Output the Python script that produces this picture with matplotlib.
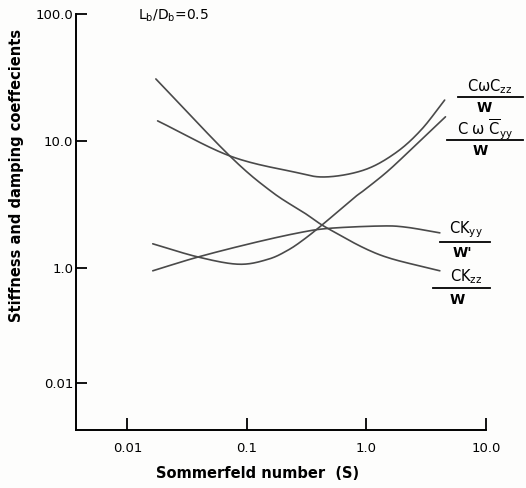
#! /usr/bin/env python3

"""
Stiffness and damping coefficients vs Sommerfeld number, L/D = 0.5.
"""

import numpy as np
import matplotlib

matplotlib.use("Agg")
import matplotlib.pyplot as plt
from matplotlib.lines import Line2D

plt.rcParams["font.family"] = ["DejaVu Sans"]
plt.rcParams["mathtext.fontset"] = "dejavusans"
plt.rcParams["mathtext.default"] = "regular"

# values (Sommerfeld number S, coefficient)
s_ckzz = [0.0173, 0.0718, 0.16, 0.303, 0.483, 1.29, 4.11]
v_ckzz = [30.8, 7.63, 4.0, 2.71, 2.03, 1.27, 0.95]

s_cczz = [0.0179, 0.0718, 0.248, 0.455, 0.96, 1.75, 2.86, 4.51]
v_cczz = [14.4, 7.63, 5.70, 5.21, 5.92, 8.05, 12.2, 21.0]

s_ckyy = [0.0163, 0.039, 0.111, 0.27, 0.483, 1.29, 2.10, 4.11]
v_ckyy = [0.95, 1.22, 1.57, 1.89, 2.05, 2.14, 2.10, 1.89]

s_ccyy = [0.0163, 0.039, 0.0855, 0.15, 0.22, 0.30, 0.43, 0.785, 0.96, 1.55, 2.86, 4.58]
v_ccyy = [1.55, 1.22, 1.07, 1.17, 1.38, 1.68, 2.2, 3.56, 4.11, 5.92, 10.2, 15.5]

x_ticks = [0.01, 0.1, 1.0, 10.0]
x_ticklabels = ["0.01", "0.1", "1.0", "10.0"]
y_ticks = [100.0, 10.0, 1.0, 10 ** -0.906]
y_ticklabels = ["100.0", "10.0", "1.0", "0.01"]

W, H = 526, 488


def smooth(xs, ys, n=24):
    """Catmull-Rom curve through the read points, in log-log space."""
    p = np.column_stack([np.log10(xs), np.log10(ys)])
    p = np.vstack([2 * p[0] - p[1], p, 2 * p[-1] - p[-2]])
    out = []
    for i in range(1, len(p) - 2):
        p0, p1, p2, p3 = p[i - 1], p[i], p[i + 1], p[i + 2]
        t = np.linspace(0, 1, n, endpoint=False)[:, None]
        seg = 0.5 * (
            2 * p1
            + (-p0 + p2) * t
            + (2 * p0 - 5 * p1 + 4 * p2 - p3) * t**2
            + (-p0 + 3 * p1 - 3 * p2 + p3) * t**3
        )
        out.append(seg)
    out.append(p[-2][None, :])
    out = np.vstack(out)
    return 10 ** out[:, 0], 10 ** out[:, 1]


def fx(px):
    return px / W


def fy(py):
    return 1 - py / H


fig = plt.figure(figsize=(W / 100, H / 100), dpi=100)
fig.patch.set_facecolor("#fdfdfc")
ax = fig.add_axes([fx(76), fy(430), fx(486) - fx(76), fy(14) - fy(430)])
ax.set_facecolor("#fdfdfc")

line_col = "#4a4a4a"
for xs, ys in [(s_ckzz, v_ckzz), (s_cczz, v_cczz), (s_ckyy, v_ckyy), (s_ccyy, v_ccyy)]:
    sx, sy = smooth(xs, ys)
    ax.plot(sx, sy, color=line_col, lw=1.2, solid_capstyle="round")

ax.set_xscale("log")
ax.set_yscale("log")
ax.set_xlim(10 ** -2.43, 10.0)
ax.set_ylim(10 ** -1.276, 100.0)

ax.spines["top"].set_visible(False)
ax.spines["right"].set_visible(False)
ax.spines["left"].set_linewidth(1.4)
ax.spines["bottom"].set_linewidth(1.4)

ax.minorticks_off()
ax.set_xticks(x_ticks)
ax.set_xticklabels(x_ticklabels)
ax.set_yticks(y_ticks)
ax.set_yticklabels(y_ticklabels)
ax.tick_params(axis="x", direction="in", length=9, width=1.3, pad=9, labelsize=9.5)
ax.tick_params(axis="y", direction="in", length=8, width=1.3, pad=2, labelsize=9.5)

fig.text(fx(17), fy(175), "Stiffness and damping coeffecients", rotation=90,
         ha="center", va="center", fontsize=10.5, fontweight="bold")
fig.text(fx(258), fy(473), "Sommerfeld number  (S)", ha="center", va="center",
         fontsize=10.5, fontweight="bold")
fig.text(fx(138), fy(16), "L$_b$/D$_b$=0.5", ha="left", va="center", fontsize=10)


def frac_label(num, den, xc, y_num, y_line, y_den, x0, x1, xd):
    fig.text(fx(xc), fy(y_num), num, ha="center", va="center", fontsize=10.5)
    fig.text(fx(xd), fy(y_den), den, ha="center", va="center", fontsize=10,
             fontweight="bold")
    fig.add_artist(Line2D([fx(x0), fx(x1)], [fy(y_line), fy(y_line)],
                          color="black", lw=1.3))


frac_label(r"CωC$_{zz}$", "W", 490, 87, 97, 108, 458, 523, 484)
frac_label(r"C ω $\overline{C}_{yy}$", "W", 485, 130, 140, 151, 447, 523, 480)
frac_label(r"CK$_{yy}$", "W'", 466, 230, 242, 253, 440, 490, 462)
frac_label(r"CK$_{zz}$", "W", 466, 277, 288, 300, 433, 490, 457)

fig.savefig("out.png", dpi=100, facecolor=fig.get_facecolor())
